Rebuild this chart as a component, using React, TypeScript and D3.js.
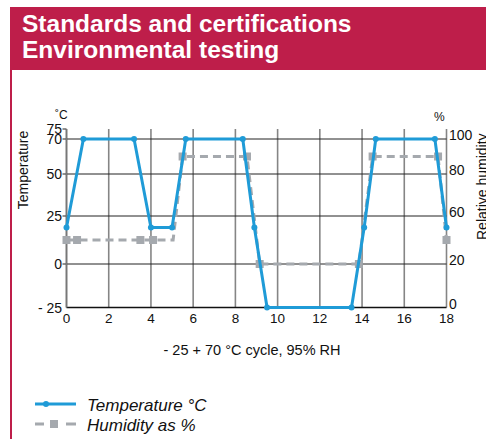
import React from 'react';
import * as d3 from 'd3';

// time in hours (x axis)
const xTicks = [0, 2, 4, 6, 8, 10, 12, 14, 16, 18];
const tempTicks = [-25, 0, 25, 50, 70, 75];
const tempTickLabels = ['- 25', '0', '25', '50', '70', '75'];
const humTicks = [0, 20, 60, 80, 100];

// temperature profile
const tempX = [0, 0.8, 3.2, 4, 5, 5.65, 8.35, 8.9, 9.5, 13.5, 14.1, 14.65, 17.45, 18];
const tempY = [19, 70, 70, 19, 19, 70, 70, 19, -25, -25, 19, 70, 70, 19];

// humidity profile
const humX = [0, 0.5, 3.5, 4.1, 5.05, 5.5, 8.55, 9.15, 13.85, 14.5, 17.6, 18];
const humY = [40, 40, 40, 40, 40, 90, 90, 20, 20, 90, 90, 40];
const humMarked = [true, true, true, true, false, true, true, true, true, true, true, true];

const BLUE = '#1f9bd7';
const GREY = '#a5a9ae';
const RED = '#be1e4a';

const App = () => {
    const width = 486;
    const height = 439;

    const x = d3.scaleLinear().domain([0, 18]).range([66.5, 446.5]);
    // the printed grid is not evenly spaced, so use piecewise scales
    const yT = d3.scaleLinear()
        .domain([-25, 0, 25, 50, 70, 75])
        .range([307.5, 264, 216, 174, 139, 129]);
    const yH = d3.scaleLinear()
        .domain([0, 20, 60, 80, 100])
        .range([307.5, 264, 216, 174, 139]);

    const tempPts: [number, number][] = tempX.map((d, i) => [x(d), yT(tempY[i])]);
    const humPts: [number, number][] = humX.map((d, i) => [x(d), yH(humY[i])]);
    const line = d3.line();

    const font = 'Liberation Sans, Arial, sans-serif';

    return (
        <svg width={width} height={height} style={{ position: 'absolute', left: 0, top: 0 }}
            fontFamily={font}>
            <rect width={width} height={height} fill="#fff" />
            {/* header */}
            <rect x={10} y={7} width={width - 10} height={63} fill={RED} />
            <text x={22} y={32} fill="#fff" fontSize={24.5} fontWeight="bold">Standards and certifications</text>
            <text x={22} y={58} fill="#fff" fontSize={24.5} fontWeight="bold">Environmental testing</text>
            <line x1={11} x2={11} y1={70} y2={height} stroke={RED} strokeWidth={2} />

            {/* vertical grid */}
            {xTicks.map(t => (
                <line key={'vx' + t} x1={x(t)} x2={x(t)} y1={yT(75)} y2={yT(-25)}
                    stroke="#858585" strokeWidth={1.6} />
            ))}
            {/* horizontal grid */}
            {[0, 25, 50, 70].map(t => (
                <line key={'hy' + t} x1={x(0) - 4} x2={x(18)} y1={yT(t)} y2={yT(t)}
                    stroke="#222" strokeWidth={1} />
            ))}
            <line x1={x(0) - 4} x2={x(0)} y1={yT(75)} y2={yT(75)} stroke="#222" strokeWidth={1} />
            <line x1={x(0)} x2={x(18)} y1={yT(-25)} y2={yT(-25)} stroke="#111" strokeWidth={1.6} />
            <line x1={x(0)} x2={x(0)} y1={yT(75)} y2={yT(-25)} stroke="#777" strokeWidth={1.6} />

            {/* left axis labels */}
            {tempTicks.map((t, i) => (
                <text key={'tl' + t} x={62} y={yT(t) + 5} fontSize={14} textAnchor="end" fill="#111">
                    {tempTickLabels[i]}
                </text>
            ))}
            {/* right axis labels */}
            {humTicks.map(t => (
                <text key={'hl' + t} x={449} y={yH(t) + 1} fontSize={14} fill="#111">{t}</text>
            ))}
            {/* bottom labels */}
            {xTicks.map(t => (
                <text key={'xl' + t} x={x(t)} y={323} fontSize={13.5} textAnchor="middle" fill="#111">{t}</text>
            ))}

            <text x={55} y={119} fontSize={12} fill="#111">˚C</text>
            <text x={434} y={121} fontSize={12} fill="#111">%</text>
            <text transform="translate(28,170) rotate(-90)" fontSize={14} textAnchor="middle" fill="#111">Temperature</text>
            <text transform="translate(487,240) rotate(-90)" fontSize={14} fill="#111">Relative humidity</text>
            <text x={252} y={355} fontSize={14.5} textAnchor="middle" fill="#111">- 25 + 70 °C cycle, 95% RH</text>

            {/* humidity */}
            <path d={line(humPts) || ''} fill="none" stroke={GREY} strokeWidth={3}
                strokeDasharray="8,5" />
            {humPts.map((p, i) => humMarked[i] ? (
                <rect key={'hm' + i} x={p[0] - 4} y={p[1] - 4} width={8} height={8} fill={GREY} />
            ) : null)}

            {/* temperature */}
            <path d={line(tempPts) || ''} fill="none" stroke={BLUE} strokeWidth={3}
                strokeLinejoin="round" />
            {tempPts.map((p, i) => (
                <circle key={'tm' + i} cx={p[0]} cy={p[1]} r={3} fill={BLUE} />
            ))}

            {/* legend */}
            <line x1={35} x2={76} y1={404} y2={404} stroke={BLUE} strokeWidth={3} />
            <circle cx={46} cy={404} r={3} fill={BLUE} />
            <text x={87} y={411} fontSize={17} fontStyle="italic" fill="#111">Temperature °C</text>
            <line x1={35} x2={76} y1={424} y2={424} stroke={GREY} strokeWidth={3} strokeDasharray="9,22,10" />
            <rect x={50} y={420} width={8} height={8} fill={GREY} />
            <text x={87} y={431} fontSize={17} fontStyle="italic" fill="#111">Humidity as %</text>
        </svg>
    );
};

export default App;
